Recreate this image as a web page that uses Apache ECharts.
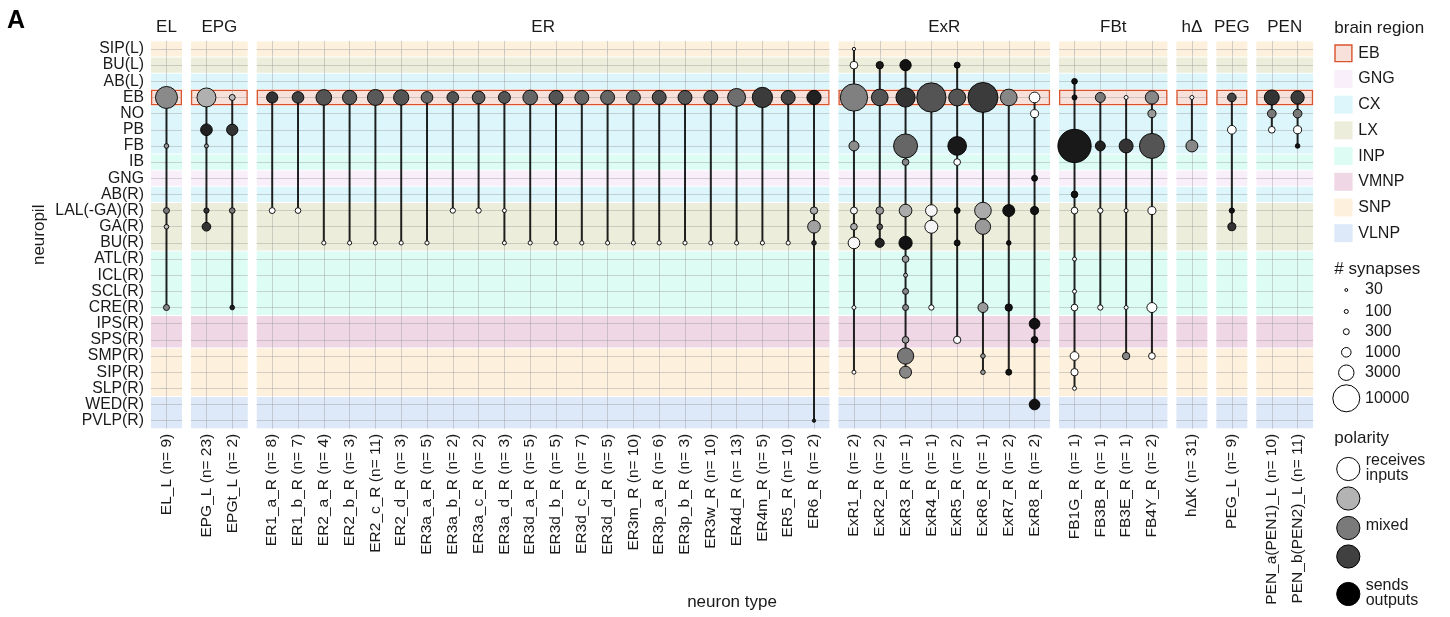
<!DOCTYPE html>
<html lang="en">
<head>
<meta charset="UTF-8">
<title>neuropil x neuron type</title>
<script src="https://cdn.jsdelivr.net/npm/echarts@6.0.0/dist/echarts.min.js"></script>
<style>
    html, body { margin: 0; padding: 0; background: #fff; }
    #chart { width: 1450px; height: 617px; }
</style>
</head>
<body>
<div id="chart"></div>
<script>
// rows, top to bottom
var neuropils = ['SIP(L)', 'BU(L)', 'AB(L)', 'EB', 'NO', 'PB', 'FB', 'IB', 'GNG', 'AB(R)',
    'LAL(-GA)(R)', 'GA(R)', 'BU(R)', 'ATL(R)', 'ICL(R)', 'SCL(R)', 'CRE(R)', 'IPS(R)', 'SPS(R)',
    'SMP(R)', 'SIP(R)', 'SLP(R)', 'WED(R)', 'PVLP(R)'];
var rowRegion = ['SNP', 'LX', 'CX', 'EB', 'CX', 'CX', 'CX', 'INP', 'GNG', 'CX',
    'LX', 'LX', 'LX', 'INP', 'INP', 'INP', 'INP', 'VMNP', 'VMNP',
    'SNP', 'SNP', 'SNP', 'VLNP', 'VLNP'];
var regionNames = ['EB', 'GNG', 'CX', 'LX', 'INP', 'VMNP', 'SNP', 'VLNP'];

var facetNames = ['EL', 'EPG', 'ER', 'ExR', 'FBt', 'hΔ', 'PEG', 'PEN'];

var elTypes = ['EL_L'];
var elCounts = [9];
var epgTypes = ['EPG_L', 'EPGt_L'];
var epgCounts = [23, 2];
var erTypes = ['ER1_a_R', 'ER1_b_R', 'ER2_a_R', 'ER2_b_R', 'ER2_c_R', 'ER2_d_R', 'ER3a_a_R', 'ER3a_b_R',
    'ER3a_c_R', 'ER3a_d_R', 'ER3d_a_R', 'ER3d_b_R', 'ER3d_c_R', 'ER3d_d_R', 'ER3m_R', 'ER3p_a_R',
    'ER3p_b_R', 'ER3w_R', 'ER4d_R', 'ER4m_R', 'ER5_R', 'ER6_R'];
var erCounts = [8, 7, 4, 3, 11, 3, 5, 2, 2, 3, 5, 5, 7, 5, 10, 6, 3, 10, 13, 5, 10, 2];
var exrTypes = ['ExR1_R', 'ExR2_R', 'ExR3_R', 'ExR4_R', 'ExR5_R', 'ExR6_R', 'ExR7_R', 'ExR8_R'];
var exrCounts = [2, 2, 1, 1, 2, 1, 2, 2];
var fbtTypes = ['FB1G_R', 'FB3B_R', 'FB3E_R', 'FB4Y_R'];
var fbtCounts = [1, 1, 1, 2];
var hdTypes = ['hΔK'];
var hdCounts = [31];
var pegTypes = ['PEG_L'];
var pegCounts = [9];
var penTypes = ['PEN_a(PEN1)_L', 'PEN_b(PEN2)_L'];
var penCounts = [10, 11];

// [type index, neuropil, # synapses, polarity (0 = receives inputs, 1 = sends outputs)]
var elPoints = [
    [0, 'EB', 6460, 0.46], [0, 'FB', 150, 0.4], [0, 'LAL(-GA)(R)', 310, 0.53],
    [0, 'GA(R)', 150, 0.27], [0, 'CRE(R)', 310, 0.47]
];
var epgPoints = [
    [0, 'EB', 4700, 0.31], [0, 'PB', 1600, 0.87], [0, 'FB', 96, 0.4],
    [0, 'LAL(-GA)(R)', 220, 0.8], [0, 'GA(R)', 800, 0.8],
    [1, 'EB', 310, 0.27], [1, 'PB', 1480, 0.8], [1, 'LAL(-GA)(R)', 270, 0.53], [1, 'CRE(R)', 150, 0.87]
];
var erPoints = [
    [0, 'EB', 1480, 0.8], [0, 'LAL(-GA)(R)', 300, 0],
    [1, 'EB', 1600, 0.75], [1, 'LAL(-GA)(R)', 270, 0],
    [2, 'EB', 3100, 0.67], [2, 'BU(R)', 110, 0],
    [3, 'EB', 2520, 0.65], [3, 'BU(R)', 110, 0],
    [4, 'EB', 3230, 0.65], [4, 'BU(R)', 110, 0],
    [5, 'EB', 2930, 0.67], [5, 'BU(R)', 110, 0],
    [6, 'EB', 1600, 0.6], [6, 'BU(R)', 110, 0],
    [7, 'EB', 1600, 0.67], [7, 'LAL(-GA)(R)', 220, 0],
    [8, 'EB', 1930, 0.64], [8, 'LAL(-GA)(R)', 220, 0],
    [9, 'EB', 1700, 0.67], [9, 'LAL(-GA)(R)', 90, 0], [9, 'BU(R)', 96, 0],
    [10, 'EB', 2680, 0.6], [10, 'BU(R)', 110, 0],
    [11, 'EB', 2400, 0.67], [11, 'BU(R)', 110, 0],
    [12, 'EB', 2400, 0.6], [12, 'BU(R)', 110, 0],
    [13, 'EB', 2400, 0.6], [13, 'BU(R)', 110, 0],
    [14, 'EB', 2400, 0.6], [14, 'BU(R)', 110, 0],
    [15, 'EB', 2400, 0.69], [15, 'BU(R)', 110, 0],
    [16, 'EB', 2400, 0.67], [16, 'BU(R)', 110, 0],
    [17, 'EB', 2400, 0.67], [17, 'BU(R)', 110, 0],
    [18, 'EB', 4190, 0.57], [18, 'BU(R)', 110, 0],
    [19, 'EB', 5430, 0.77], [19, 'BU(R)', 110, 0],
    [20, 'EB', 2400, 0.73], [20, 'BU(R)', 110, 0],
    [21, 'EB', 2520, 0.87], [21, 'LAL(-GA)(R)', 520, 0.33], [21, 'GA(R)', 1930, 0.37],
    [21, 'BU(R)', 150, 0.8], [21, 'PVLP(R)', 50, 0.87]
];
var exrPoints = [
    [0, 'SIP(L)', 50, 0.05], [0, 'BU(L)', 590, 0], [0, 'EB', 10240, 0.5], [0, 'FB', 1110, 0.45],
    [0, 'LAL(-GA)(R)', 465, 0.05], [0, 'GA(R)', 415, 0.33], [0, 'BU(R)', 1600, 0.03],
    [0, 'CRE(R)', 96, 0], [0, 'SIP(R)', 96, 0],
    [1, 'BU(L)', 520, 0.9], [1, 'EB', 3550, 0.67], [1, 'LAL(-GA)(R)', 590, 0.4],
    [1, 'GA(R)', 270, 0.67], [1, 'BU(R)', 865, 0.87],
    [2, 'BU(L)', 1480, 0.93], [2, 'EB', 4870, 0.8], [2, 'FB', 7780, 0.6], [2, 'IB', 415, 0.47],
    [2, 'LAL(-GA)(R)', 1930, 0.33], [2, 'BU(R)', 2140, 0.93], [2, 'ATL(R)', 415, 0.4],
    [2, 'ICL(R)', 96, 0.3], [2, 'SCL(R)', 310, 0.47], [2, 'CRE(R)', 310, 0.47],
    [2, 'SPS(R)', 415, 0.4], [2, 'SMP(R)', 3370, 0.53], [2, 'SIP(R)', 1700, 0.47],
    [3, 'EB', 11900, 0.67], [3, 'LAL(-GA)(R)', 1600, 0.03], [3, 'GA(R)', 2030, 0.04], [3, 'CRE(R)', 220, 0],
    [4, 'BU(L)', 310, 0.93], [4, 'EB', 3700, 0.67], [4, 'FB', 4550, 0.9], [4, 'IB', 415, 0],
    [4, 'LAL(-GA)(R)', 310, 0.93], [4, 'BU(R)', 310, 0.93], [4, 'SPS(R)', 520, 0],
    [5, 'EB', 12490, 0.77], [5, 'LAL(-GA)(R)', 3550, 0.33], [5, 'GA(R)', 2930, 0.4],
    [5, 'CRE(R)', 1110, 0.4], [5, 'SMP(R)', 150, 0.4], [5, 'SIP(R)', 150, 0.4],
    [6, 'EB', 3550, 0.47], [6, 'LAL(-GA)(R)', 1700, 0.93], [6, 'BU(R)', 150, 0.93],
    [6, 'CRE(R)', 520, 0.93], [6, 'SIP(R)', 310, 0.93],
    [7, 'EB', 1300, 0], [7, 'NO', 650, 0], [7, 'GNG', 310, 0.93], [7, 'LAL(-GA)(R)', 650, 0.93],
    [7, 'IPS(R)', 1300, 0.93], [7, 'SPS(R)', 415, 0.93], [7, 'WED(R)', 1300, 0.93]
];
var fbtPoints = [
    [0, 'AB(L)', 270, 0.93], [0, 'EB', 190, 0.93], [0, 'FB', 15550, 0.9], [0, 'AB(R)', 415, 0.93],
    [0, 'LAL(-GA)(R)', 415, 0], [0, 'ATL(R)', 96, 0], [0, 'SCL(R)', 96, 0], [0, 'CRE(R)', 415, 0],
    [0, 'SMP(R)', 800, 0], [0, 'SIP(R)', 520, 0], [0, 'SLP(R)', 96, 0],
    [1, 'EB', 1110, 0.53], [1, 'FB', 1110, 0.87], [1, 'LAL(-GA)(R)', 220, 0], [1, 'CRE(R)', 220, 0],
    [2, 'EB', 96, 0], [2, 'FB', 2400, 0.8], [2, 'LAL(-GA)(R)', 96, 0], [2, 'CRE(R)', 96, 0],
    [2, 'SMP(R)', 520, 0.47],
    [3, 'EB', 2140, 0.47], [3, 'NO', 650, 0.4], [3, 'FB', 8490, 0.67], [3, 'LAL(-GA)(R)', 650, 0],
    [3, 'CRE(R)', 1110, 0], [3, 'SMP(R)', 415, 0]
];
var hdPoints = [
    [0, 'EB', 96, 0], [0, 'FB', 1700, 0.47]
];
var pegPoints = [
    [0, 'EB', 800, 0.73], [0, 'PB', 800, 0], [0, 'LAL(-GA)(R)', 220, 0.93], [0, 'GA(R)', 650, 0.8]
];
var penPoints = [
    [0, 'EB', 2800, 0.8], [0, 'NO', 800, 0.53], [0, 'PB', 415, 0],
    [1, 'EB', 2140, 0.77], [1, 'NO', 800, 0.53], [1, 'PB', 650, 0], [1, 'FB', 150, 0.93]
];

var sizeTicks = [30, 100, 300, 1000, 3000, 10000];
var polarityTicks = [0, 0.3, 0.52, 0.75, 1];
var polarityLabels = ['receives\ninputs', '', 'mixed', '', 'sends\noutputs'];

// ---- styling / layout ----
var FONT = "'Liberation Sans', Arial, Helvetica, sans-serif";
var TEXT = '#1a1a1a';
var regionColors = {
    EB: '#F7E1DA', GNG: '#F9EFFB', CX: '#DDF6FB', LX: '#ECEEDB',
    INP: '#DCFCF4', VMNP: '#F0D7E5', SNP: '#FDF0DC', VLNP: '#DDE8F9'
};
var EB_BORDER = '#D9532C';
var STEP = 25.8, GAP = 9, LEFT0 = 151, TOP = 40.9, ROW_H = 16.16;
var HEIGHT = neuropils.length * ROW_H;
var GRID_LINE = 'rgba(150,150,150,0.4)';

function symSize(v) { return 1.5 + 0.255 * Math.sqrt(v); }
function grey(p) {
    var g = Math.round(255 * (1 - p));
    return 'rgb(' + g + ',' + g + ',' + g + ')';
}

var facets = [
    { types: elTypes, counts: elCounts, points: elPoints },
    { types: epgTypes, counts: epgCounts, points: epgPoints },
    { types: erTypes, counts: erCounts, points: erPoints },
    { types: exrTypes, counts: exrCounts, points: exrPoints },
    { types: fbtTypes, counts: fbtCounts, points: fbtPoints },
    { types: hdTypes, counts: hdCounts, points: hdPoints },
    { types: pegTypes, counts: pegCounts, points: pegPoints },
    { types: penTypes, counts: penCounts, points: penPoints }
];

// contiguous region groups for the background bands (EB drawn last)
var bandGroups = [];
rowRegion.forEach(function (r, i) {
    var last = bandGroups[bandGroups.length - 1];
    if (last && last[2] === regionNames.indexOf(r)) last[1] = i;
    else bandGroups.push([i, i, regionNames.indexOf(r)]);
});
bandGroups.sort(function (a, b) { return (a[2] === 0) - (b[2] === 0); });

var rowIdx = neuropils.map(function (_, i) { return i; });

var grids = [], xAxes = [], yAxes = [], series = [], graphics = [];
var cursor = LEFT0;

facets.forEach(function (f, fi) {
    var n = f.types.length;
    var width = (n + 0.2) * STEP;
    var colIdx = f.types.map(function (_, i) { return i; });
    var labels = f.types.map(function (t, i) { return t + ' (n= ' + f.counts[i] + ')'; });

    grids.push({ left: cursor, top: TOP, width: width, height: HEIGHT, show: false,
        containLabel: false, outerBoundsMode: 'none' });

    xAxes.push({
        gridIndex: fi, type: 'value', min: -0.6, max: n - 0.4, z: 1,
        axisLine: { show: false },
        axisTick: { show: true, customValues: colIdx, length: 4, lineStyle: { color: '#c4c4c4' } },
        axisLabel: {
            customValues: colIdx, rotate: 90, margin: 5, fontSize: 15.5, color: TEXT, fontFamily: FONT,
            formatter: function (v) { return labels[Math.round(v)]; }
        },
        splitLine: { show: true, lineStyle: { color: GRID_LINE, width: 1 } }
    });

    yAxes.push({
        gridIndex: fi, type: 'value', inverse: true, min: -0.5, max: neuropils.length - 0.5, z: 1,
        axisLine: { show: false },
        axisTick: { show: fi === 0, customValues: rowIdx, length: 5, lineStyle: { color: '#c4c4c4' } },
        axisLabel: {
            show: fi === 0, customValues: rowIdx, margin: 7, fontSize: 15.8, color: TEXT, fontFamily: FONT,
            formatter: function (v) { return neuropils[Math.round(v)]; }
        },
        splitLine: { show: true, lineStyle: { color: GRID_LINE, width: 1 } },
        name: fi === 0 ? 'neuropil' : '', nameLocation: 'middle', nameGap: 103, nameRotate: 90,
        nameTextStyle: { fontSize: 17, color: TEXT, fontFamily: FONT }
    });

    // background region bands
    series.push({
        type: 'custom', xAxisIndex: fi, yAxisIndex: fi, z: 0, silent: true,
        data: bandGroups,
        renderItem: function (params, api) {
            var cs = params.coordSys;
            var y0 = api.coord([0, api.value(0) - 0.5])[1];
            var y1 = api.coord([0, api.value(1) + 0.5])[1];
            var reg = regionNames[api.value(2)];
            var isEB = reg === 'EB';
            return {
                type: 'rect',
                shape: { x: cs.x + (isEB ? 0.6 : 0), y: y0 + (isEB ? 1 : 0.5),
                    width: cs.width - (isEB ? 1.2 : 0), height: y1 - y0 - (isEB ? 2 : 1) },
                style: { fill: regionColors[reg], stroke: isEB ? EB_BORDER : null, lineWidth: 1.3 }
            };
        }
    });

    // stems from top-most to bottom-most neuropil of each type
    var stems = f.types.map(function (_, ti) {
        var rows = f.points.filter(function (p) { return p[0] === ti; })
            .map(function (p) { return neuropils.indexOf(p[1]); });
        return [ti, Math.min.apply(null, rows), Math.max.apply(null, rows)];
    });
    series.push({
        type: 'custom', xAxisIndex: fi, yAxisIndex: fi, z: 2, silent: true,
        data: stems,
        renderItem: function (params, api) {
            var a = api.coord([api.value(0), api.value(1)]);
            var b = api.coord([api.value(0), api.value(2)]);
            return { type: 'line', shape: { x1: a[0], y1: a[1], x2: b[0], y2: b[1] },
                style: { stroke: 'rgba(0,0,0,0.85)', lineWidth: 2 } };
        }
    });

    series.push({
        type: 'scatter', xAxisIndex: fi, yAxisIndex: fi, z: 3, silent: true,
        data: f.points.map(function (p) { return [p[0], neuropils.indexOf(p[1]), p[2], p[3]]; }),
        symbolSize: function (v) { return symSize(v[2]); },
        itemStyle: {
            color: function (p) { return grey(p.data[3]); },
            borderColor: '#000', borderWidth: 0.9, opacity: 1
        }
    });

    graphics.push({ type: 'text', x: cursor + width / 2, y: 27,
        style: { text: facetNames[fi], fontSize: 17, fill: TEXT, fontFamily: FONT, align: 'center', verticalAlign: 'middle' } });

    cursor += width + GAP;
});

var plotRight = cursor - GAP;

// titles
graphics.push({ type: 'text', x: 7, y: 21,
    style: { text: 'A', fontSize: 25, fontWeight: 'bold', fill: '#000', fontFamily: FONT, verticalAlign: 'middle' } });
graphics.push({ type: 'text', x: (LEFT0 + plotRight) / 2, y: 602,
    style: { text: 'neuron type', fontSize: 17, fill: TEXT, fontFamily: FONT, align: 'center', verticalAlign: 'middle' } });

// legend: brain region
var LX0 = 1334.3;
graphics.push({ type: 'text', x: LX0, y: 28.3,
    style: { text: 'brain region', fontSize: 17, fill: TEXT, fontFamily: FONT, verticalAlign: 'middle' } });
regionNames.forEach(function (r, k) {
    var cy = 53.3 + k * 25.7;
    graphics.push({ type: 'rect', shape: { x: LX0 + (r === 'EB' ? 0.7 : 0), y: cy - 9 + (r === 'EB' ? 0.7 : 0),
            width: r === 'EB' ? 16.9 : 18.3, height: r === 'EB' ? 16.6 : 18 },
        style: { fill: regionColors[r], stroke: r === 'EB' ? EB_BORDER : null, lineWidth: 1.4 } });
    graphics.push({ type: 'text', x: 1358.3, y: cy,
        style: { text: r, fontSize: 16, fill: TEXT, fontFamily: FONT, verticalAlign: 'middle' } });
});

// legend: # synapses
var sizeKeyY = [290, 311.5, 331.7, 352.3, 372.7, 398.3];
graphics.push({ type: 'text', x: LX0, y: 269.3,
    style: { text: '# synapses', fontSize: 17, fill: TEXT, fontFamily: FONT, verticalAlign: 'middle' } });
sizeTicks.forEach(function (v, k) {
    graphics.push({ type: 'circle', shape: { cx: 1346.3, cy: sizeKeyY[k], r: symSize(v) / 2 },
        style: { fill: '#fff', stroke: '#000', lineWidth: 1 } });
    graphics.push({ type: 'text', x: 1365, y: sizeKeyY[k],
        style: { text: String(v), fontSize: 16, fill: TEXT, fontFamily: FONT, verticalAlign: 'middle' } });
});

// legend: polarity
var polKeyY = [469, 498.5, 528, 556.5, 594];
graphics.push({ type: 'text', x: LX0, y: 438.3,
    style: { text: 'polarity', fontSize: 17, fill: TEXT, fontFamily: FONT, verticalAlign: 'middle' } });
polarityTicks.forEach(function (p, k) {
    graphics.push({ type: 'circle', shape: { cx: 1348.3, cy: polKeyY[k], r: 11.6 },
        style: { fill: grey(p), stroke: '#000', lineWidth: 1 } });
    if (polarityLabels[k]) {
        graphics.push({ type: 'text', x: 1365.7, y: polKeyY[k] - (polarityLabels[k].indexOf('\n') >= 0 ? 1 : 2),
            style: { text: polarityLabels[k], fontSize: 16, lineHeight: 15.5, fill: TEXT, fontFamily: FONT, verticalAlign: 'middle' } });
    }
});

var chart = echarts.init(document.getElementById('chart'));
chart.setOption({
    animation: false,
    backgroundColor: '#fff',
    textStyle: { fontFamily: FONT },
    grid: grids,
    xAxis: xAxes,
    yAxis: yAxes,
    series: series,
    graphic: graphics
});
</script>
</body>
</html>
